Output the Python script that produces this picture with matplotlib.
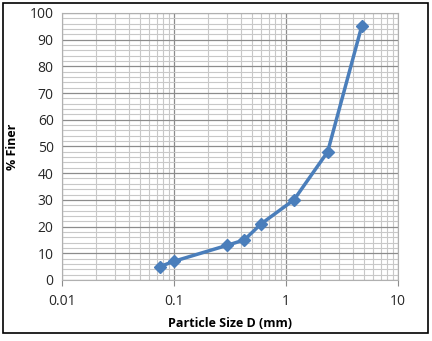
import matplotlib
matplotlib.use("Agg")
import matplotlib.pyplot as plt
from matplotlib.ticker import FixedLocator, NullFormatter, MultipleLocator
from matplotlib.patches import Rectangle

sizes = [0.075, 0.1, 0.3, 0.425, 0.6, 1.18, 2.36, 4.75]
finer = [5, 7, 13, 15, 21, 30, 48, 95]
x_ticks = [0.01, 0.1, 1, 10]
x_labels = ["0.01", "0.1", "1", "10"]

plt.rcParams["font.family"] = ["Open Sans", "DejaVu Sans"]

fig = plt.figure(figsize=(4.32, 3.41), dpi=100)
ax = fig.add_axes([0.1435, 0.179, 0.7775, 0.783])

ax.set_xscale("log")
ax.set_xlim(0.01, 10)
ax.set_ylim(0, 100)

ax.xaxis.set_major_locator(FixedLocator(x_ticks))
ax.set_xticklabels(x_labels)
minors = [m * 10.0 ** e for e in range(-2, 1) for m in range(2, 10)]
ax.xaxis.set_minor_locator(FixedLocator(minors))
ax.xaxis.set_minor_formatter(NullFormatter())
ax.yaxis.set_major_locator(MultipleLocator(10))
ax.yaxis.set_minor_locator(MultipleLocator(2))

ax.grid(True, which="major", color="#8c8c8c", linewidth=0.9)
ax.grid(True, which="minor", color="#c8c8c8", linewidth=0.8)
ax.set_axisbelow(True)

for s in ax.spines.values():
    s.set_color("#b0b0b0")
    s.set_linewidth(0.8)

ax.tick_params(axis="both", which="both", length=0, labelsize=10, colors="#262626", pad=6)
ax.tick_params(axis="x", which="major", length=4, color="#8c8c8c", direction="out")

ax.plot(sizes, finer, color="#4a7ebb", linewidth=2.5, marker="D", markersize=6.5,
        markerfacecolor="#4a7ebb", markeredgecolor="#4a7ebb")

ax.set_xlabel("Particle Size D (mm)", fontsize=9, fontweight="bold", labelpad=6)
ax.set_ylabel("% Finer", fontsize=9, fontweight="bold", labelpad=8)

fig.patches.append(Rectangle((0.007, 0.023), 0.984, 0.968, transform=fig.transFigure,
                             fill=False, edgecolor="black", linewidth=1.2))

fig.savefig("out.png", dpi=100)
